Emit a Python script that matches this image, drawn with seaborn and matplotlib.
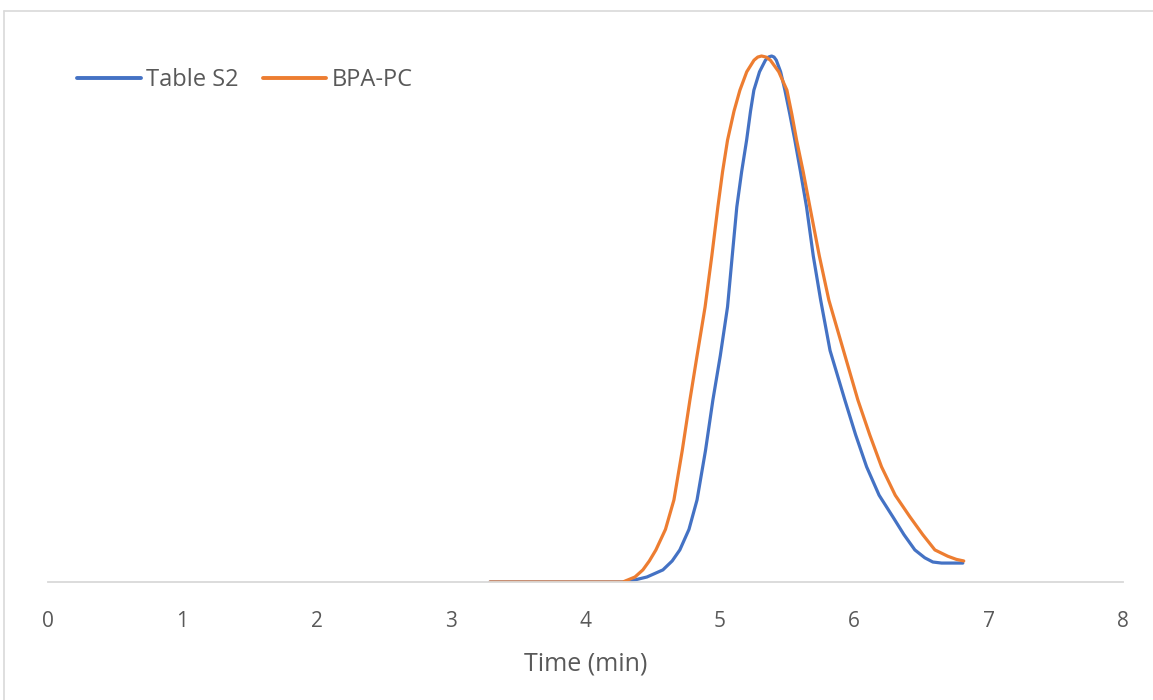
import matplotlib
matplotlib.use("Agg")
import matplotlib.pyplot as plt
import seaborn as sns
import pandas as pd
from matplotlib.lines import Line2D

# ---- data ----
table_s2_time = [3.289, 4.278, 4.368, 4.457, 4.576, 4.645, 4.702, 4.770, 4.830, 4.893,
                 4.948, 5.003, 5.057, 5.092, 5.126, 5.162, 5.199, 5.228, 5.253, 5.295,
                 5.339, 5.362, 5.385, 5.403, 5.420, 5.452, 5.484, 5.520, 5.558, 5.600,
                 5.645, 5.695, 5.750, 5.820, 5.930, 6.010, 6.092, 6.185, 6.287, 6.370,
                 6.451, 6.525, 6.585, 6.650, 6.808]
table_s2_signal = [0.0, 0.0, 0.004, 0.0095, 0.023, 0.040, 0.061, 0.100, 0.156, 0.250,
                   0.346, 0.430, 0.523, 0.620, 0.713, 0.780, 0.840, 0.895, 0.935, 0.970,
                   0.992, 0.998, 1.0, 0.998, 0.992, 0.970, 0.935, 0.890, 0.840, 0.780,
                   0.713, 0.620, 0.536, 0.440, 0.346, 0.280, 0.219, 0.165, 0.124, 0.090,
                   0.061, 0.046, 0.038, 0.036, 0.036]

bpa_pc_time = [3.289, 4.278, 4.368, 4.427, 4.475, 4.524, 4.595, 4.658, 4.720, 4.777,
               4.830, 4.890, 4.940, 4.985, 5.020, 5.057, 5.105, 5.149, 5.200, 5.254,
               5.282, 5.310, 5.343, 5.376, 5.438, 5.499, 5.535, 5.571, 5.620, 5.670,
               5.740, 5.811, 5.920, 6.027, 6.115, 6.203, 6.305, 6.414, 6.510, 6.600,
               6.696, 6.760, 6.815]
bpa_pc_signal = [0.0, 0.0, 0.0095, 0.023, 0.040, 0.061, 0.100, 0.156, 0.250, 0.346,
                 0.430, 0.523, 0.620, 0.713, 0.780, 0.840, 0.895, 0.935, 0.970, 0.992,
                 0.998, 1.0, 0.998, 0.992, 0.970, 0.935, 0.890, 0.840, 0.780, 0.713,
                 0.620, 0.536, 0.440, 0.346, 0.280, 0.219, 0.165, 0.124, 0.090, 0.061,
                 0.049, 0.043, 0.040]

series_names = ["Table S2", "BPA-PC"]
series_colors = ["#4472C4", "#ED7D31"]
x_ticks = [0, 1, 2, 3, 4, 5, 6, 7, 8]
x_label = "Time (min)"

df = pd.concat([
    pd.DataFrame({"time": table_s2_time, "signal": table_s2_signal, "series": series_names[0]}),
    pd.DataFrame({"time": bpa_pc_time, "signal": bpa_pc_signal, "series": series_names[1]}),
], ignore_index=True)

sns.set_style("white")
plt.rcParams['font.family'] = ['Open Sans', 'DejaVu Sans']

W, H = 1153, 700
fig = plt.figure(figsize=(W / 100, H / 100), dpi=100)
ax = fig.add_axes([48 / W, (H - 582) / H, (1123 - 48) / W, (582 - 30) / H])

sns.lineplot(data=df, x="time", y="signal", hue="series", hue_order=series_names,
             palette=series_colors, linewidth=2.3, ax=ax, legend=False, sort=False)
for ln in ax.get_lines():
    ln.set_solid_joinstyle("round")
    ln.set_solid_capstyle("round")

ax.set_xlim(0, 8)
ax.set_ylim(0, (582 - 30) / 526)
ax.set_xticks(x_ticks)
ax.set_xticklabels([str(t) for t in x_ticks])
ax.set_yticks([])
ax.set_ylabel("")
ax.set_xlabel(x_label, fontsize=18, color="#595959", labelpad=14)
ax.tick_params(axis="x", length=0, pad=21, labelsize=15, labelcolor="#595959")

for side in ["top", "right", "left"]:
    ax.spines[side].set_visible(False)
ax.spines["bottom"].set_color("#D9D9D9")
ax.spines["bottom"].set_linewidth(1.3)

handles = [Line2D([0], [0], color=c, lw=2.8) for c in series_colors]
leg = ax.legend(handles, series_names, loc="upper left", bbox_to_anchor=(0.018, 0.948),
                ncol=2, frameon=False, fontsize=17, handlelength=2.7,
                handletextpad=0.25, columnspacing=1.0, borderaxespad=0)
for t in leg.get_texts():
    t.set_color("#595959")

# outer chart frame (light grey, top and left visible)
fig.add_artist(Line2D([3.5 / W, 1.0], [(H - 10.5) / H, (H - 10.5) / H],
                      color="#D9D9D9", lw=1.2, transform=fig.transFigure))
fig.add_artist(Line2D([3.5 / W, 3.5 / W], [0, (H - 10.5) / H],
                      color="#D9D9D9", lw=1.2, transform=fig.transFigure))

fig.savefig("out.png", dpi=100)
